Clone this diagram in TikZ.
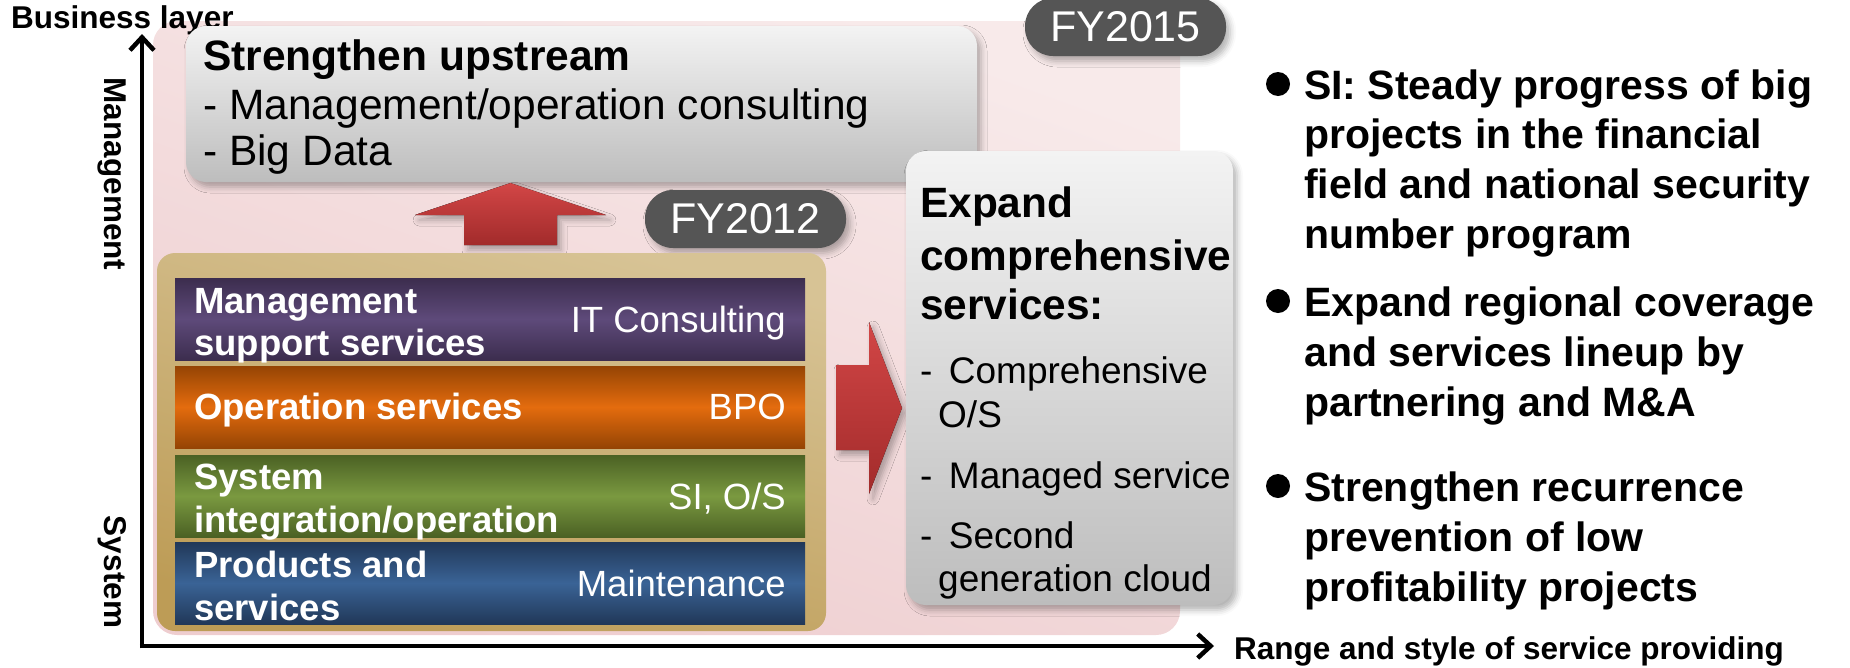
\documentclass[tikz,border=0pt]{standalone}
\usepackage{fontspec}
\setmainfont{Liberation Sans}
\usetikzlibrary{arrows.meta,shadows.blur}

\definecolor{pinkT}{HTML}{F8EAEA}
\definecolor{pinkB}{HTML}{EECDCF}
\definecolor{greyT}{HTML}{F3F3F3}
\definecolor{greyB}{HTML}{BDBDBD}
\definecolor{pillgrey}{HTML}{555555}
\definecolor{tanT}{HTML}{D7C395}
\definecolor{tanB}{HTML}{BD9C56}
\definecolor{purO}{HTML}{3C2D4E}
\definecolor{purM}{HTML}{5E4A7A}
\definecolor{orO}{HTML}{954404}
\definecolor{orM}{HTML}{E46C0E}
\definecolor{grO}{HTML}{4B6124}
\definecolor{grM}{HTML}{7A9940}
\definecolor{blO}{HTML}{213858}
\definecolor{blM}{HTML}{3A6396}
\definecolor{redT}{HTML}{D24646}
\definecolor{redB}{HTML}{A22B2B}

\newcommand{\fsz}[1]{\fontsize{#1}{#1}\selectfont}

\begin{document}
\begin{tikzpicture}[x=1pt,y=-1pt,
  box/.style={inner sep=0pt, outer sep=0pt, anchor=north west},
  softshadow/.style={blur shadow={shadow xshift=4pt, shadow yshift=-5pt,
      shadow blur radius=6pt, shadow opacity=30}},
  panel/.style={box, rounded corners=24pt, top color=pinkT, bottom color=pinkB,
      shading angle=-20},
  greybox/.style={box, rounded corners=20pt, top color=greyT, bottom color=greyB,
      softshadow},
  tanbox/.style={box, rounded corners=18pt, top color=tanT, bottom color=tanB,
      shading angle=-15},
  pill/.style={fill=pillgrey, rounded corners=28pt, text=white, inner sep=0pt,
      minimum width=201pt, minimum height=58pt, font=\fsz{43}, softshadow},
  band/.style={box, minimum width=630pt, minimum height=82pt},
  bandtext/.style={anchor=base west, inner sep=0pt, text=white, font=\bfseries\fsz{36.5}},
  bandright/.style={anchor=base east, inner sep=0pt, text=white, font=\fsz{36.5}},
  axislabel/.style={inner sep=0pt, font=\bfseries\fsz{31.5}},
  axisline/.style={line width=4.5pt, -{Straight Barb[length=13pt,width=24pt,line width=4.5pt]}},
  redarrow/.style={top color=redT, bottom color=redB, softshadow},
  uptext/.style={anchor=base west, inner sep=0pt, font=\fsz{42.5}},
  extext/.style={anchor=base west, inner sep=0pt, font=\fsz{37}},
  exhead/.style={anchor=base west, inner sep=0pt, font=\bfseries\fsz{42.4}},
  bullettext/.style={anchor=base west, inner sep=0pt, font=\bfseries\fsz{41}},
  dot/.style={circle, fill=black, inner sep=0pt, minimum size=24pt}
]
\useasboundingbox (0,0) rectangle (1850,667);

% pink background panel
\node[panel, minimum width=1027pt, minimum height=614pt] (field) at (153,21) {};

% axes
\coordinate (origin) at (142,646);
\coordinate (ytip) at (142,34);
\coordinate (xtip) at (1214,646);
\draw[axisline] ([yshift=-2.25pt]origin) -- (ytip);
\draw[axisline] ([xshift=-2.25pt]origin) -- (xtip);
\node[axislabel, anchor=west] (blayer) at (11,20) {Business layer};
\node[axislabel, rotate=-90] (mgmt) at (112,174) {Management};
\node[axislabel, rotate=-90] (sys) at (112,572) {System};
\node[axislabel, anchor=west] (range) at (1234,651) {Range and style of service providing};

% upstream box
\node[greybox, minimum width=791pt, minimum height=156pt] (upbox) at (186,26) {};
\node[uptext, font=\bfseries\fsz{42.5}] (up1) at (203,70) {Strengthen upstream};
\node[uptext] (up2) at (203,119) {- Management/operation consulting};
\node[uptext] (up3) at (203,165) {- Big Data};

% year tags
\node[pill] (fy15) at (1125.5,27) {FY2015};
\node[pill] (fy12) at (745.5,219) {FY2012};

% upward arrow
\coordinate (uptip) at (510.5,183);
\fill[redarrow] (464,245) -- (464,215) -- (415,215) -- (uptip) -- (606,215)
  -- (557,215) -- (557,245) -- cycle;

% service layer stack
\node[tanbox, minimum width=669pt, minimum height=378pt] (stack) at (157,253) {};
\node[band, top color=purO, bottom color=purO, middle color=purM] (b1) at (175,278) {};
\node[band, top color=orO, bottom color=orO, middle color=orM] (b2) at (175,366) {};
\node[band, top color=grO, bottom color=grO, middle color=grM] (b3) at (175,455) {};
\node[band, top color=blO, bottom color=blO, middle color=blM] (b4) at (175,542) {};

\node[bandtext] (b1a) at (194,313) {Management};
\node[bandtext] (b1b) at (194,355) {support services};
\node[bandright] (b1r) at (786,332) {IT Consulting};
\node[bandtext] (b2a) at (194,419) {Operation services};
\node[bandright] (b2r) at (786,419) {BPO};
\node[bandtext] (b3a) at (194,489) {System};
\node[bandtext] (b3b) at (194,532) {integration/operation};
\node[bandright] (b3r) at (786,509) {SI, O/S};
\node[bandtext] (b4a) at (194,577) {Products and};
\node[bandtext] (b4b) at (194,620) {services};
\node[bandright] (b4r) at (786,596) {Maintenance};

% rightward arrow
\coordinate (righttip) at (902,408);
\fill[redarrow] (836,365) -- (869,365) -- (869,322) -- (righttip) -- (869,494)
  -- (869,450) -- (836,450) -- cycle;

% comprehensive services box
\node[greybox, minimum width=327pt, minimum height=454pt] (expbox) at (906,151) {};
\node[exhead] (ex1) at (920,217) {Expand};
\node[exhead] (ex2) at (920,270) {comprehensive};
\node[exhead] (ex3) at (920,319) {services:};
\node[extext] (ex4) at (920,383) {-\, Comprehensive};
\node[extext] (ex5) at (938,427) {O/S};
\node[extext] (ex6) at (920,488) {-\, Managed service};
\node[extext] (ex7) at (920,548) {-\, Second};
\node[extext] (ex8) at (938,591) {generation cloud};

% key points
\node[dot] (d1) at (1278,84) {};
\node[bullettext] (p1a) at (1304,99) {SI: Steady progress of big};
\node[bullettext] (p1b) at (1304,148) {projects in the financial};
\node[bullettext] (p1c) at (1304,198) {field and national security};
\node[bullettext] (p1d) at (1304,248) {number program};
\node[dot] (d2) at (1278,301) {};
\node[bullettext] (p2a) at (1304,316) {Expand regional coverage};
\node[bullettext] (p2b) at (1304,366) {and services lineup by};
\node[bullettext] (p2c) at (1304,416) {partnering and M\&A};
\node[dot] (d3) at (1278,486) {};
\node[bullettext] (p3a) at (1304,501) {Strengthen recurrence};
\node[bullettext] (p3b) at (1304,551) {prevention of low};
\node[bullettext] (p3c) at (1304,601) {profitability projects};
\end{tikzpicture}
\end{document}
